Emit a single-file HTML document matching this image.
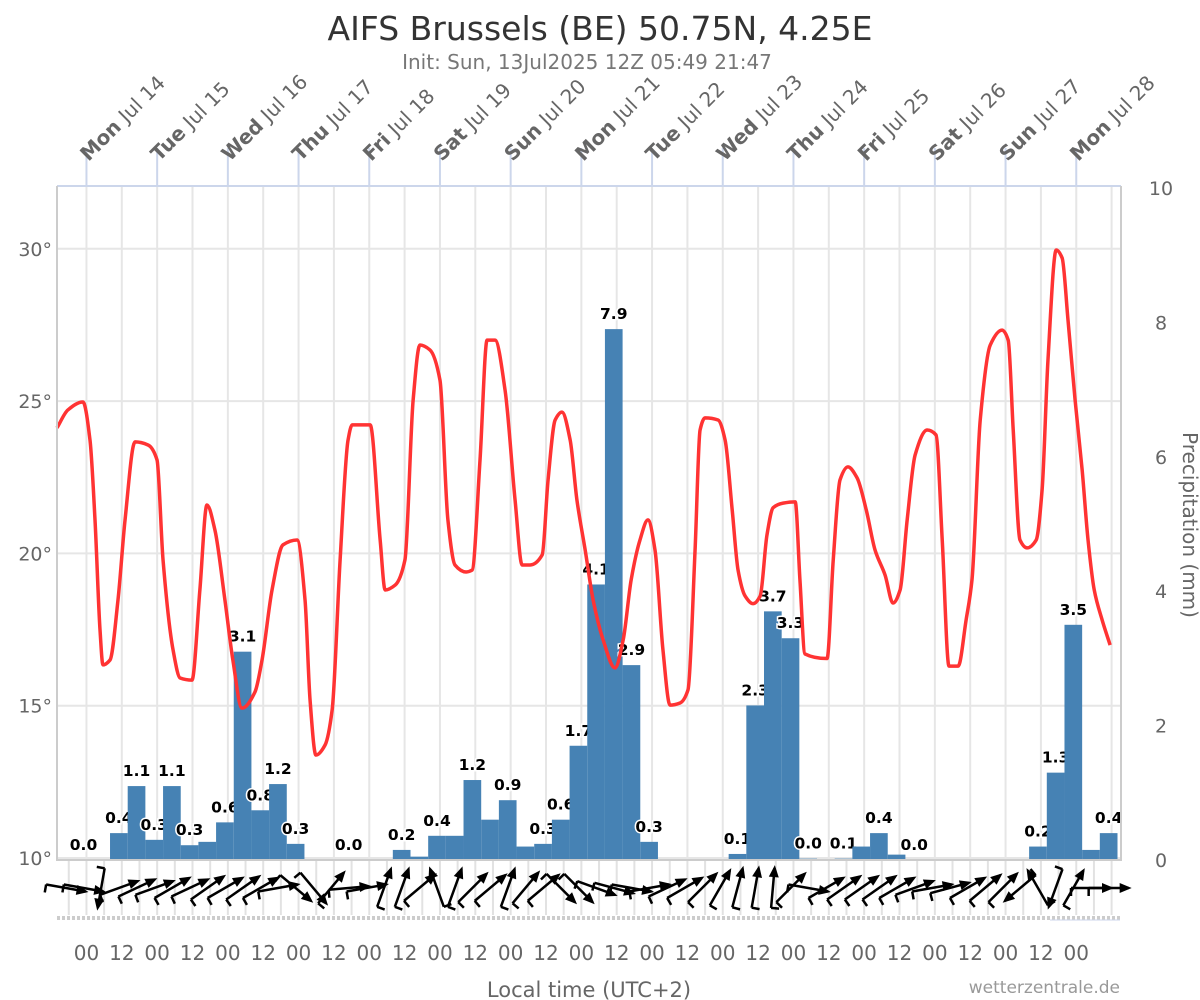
<!DOCTYPE html>
<html><head><meta charset="utf-8"><style>
body{margin:0;background:#fff;}
svg{display:block;font-family:"DejaVu Sans","Liberation Sans",sans-serif;}
</style></head><body>
<svg id="c" width="1200" height="1000" viewBox="0 0 1200 1000">
<text x="600" y="40" text-anchor="middle" font-size="33" fill="#333">AIFS Brussels (BE) 50.75N, 4.25E</text>
<text x="587" y="69" text-anchor="middle" font-size="20" fill="#777">Init: Sun, 13Jul2025 12Z 05:49 21:47</text>
<g id="grid"></g>
<g id="bars"></g>
<g id="temp"></g>
<g id="wind"></g>
<g id="axes"></g>
<text x="589" y="997" text-anchor="middle" font-size="21" fill="#666">Local time (UTC+2)</text>
<text x="1120" y="993" text-anchor="end" font-size="17" fill="#999">wetterzentrale.de</text>
<text transform="translate(1183,525) rotate(90)" text-anchor="middle" font-size="20" fill="#666">Precipitation (mm)</text>
</svg>
<script>
const precipValues=[null,0.0,0,0.4,1.1,0.3,1.1,0.22,0.27,0.56,3.1,0.74,1.13,0.24,
null,null,0.0,null,null,0.15,0.05,0.36,0.36,1.19,0.6,0.89,0.2,0.24,0.6,1.7,4.1,7.9,2.9,0.27,
null,null,null,null,0.09,2.3,3.7,3.3,0.02,null,0.02,0.2,0.4,0.08,0.0,
null,null,null,null,null,null,0.2,1.3,3.5,0.15,0.4];
const precipLabels=[null,"0.0",null,"0.4","1.1","0.3","1.1","0.3",null,"0.6","3.1","0.8","1.2","0.3",
null,null,"0.0",null,null,"0.2",null,"0.4",null,"1.2",null,"0.9",null,"0.3","0.6","1.7","4.1","7.9","2.9","0.3",
null,null,null,null,"0.1","2.3","3.7","3.3","0.0",null,"0.1",null,"0.4",null,"0.0",
null,null,null,null,null,null,"0.2","1.3","3.5",null,"0.4"];
const tempHours=[0,3.7,8.8,11.2,12.9,14.6,15.6,18,20.7,23.1,26.5,30.9,33.95,36,39.4,41.8,45.8,48.5,50.9,53.6,57,59.7,62.8,67.2,69.6,73,76.7,81.5,84.2,85.9,87.9,91,93.4,96.1,98.8,100.2,106.3,109.7,111.4,114.8,118.1,120.9,123.2,126.6,130,132.7,135.1,138.9,140.9,143.6,146,148.7,152.1,155.5,157.9,160.6,164.7,166.7,169.1,171.4,174.2,176.5,179.3,182,185.4,189.4,192.2,194.9,197.9,200.6,203,205.7,208.1,211.5,214.2,216.6,218.3,220,224.4,226.8,229.2,231.2,233.6,236.3,238.7,241,243.1,246.5,250.6,252.2,253.9,261.4,263.5,265.8,268.5,271.6,274.7,277.7,281.1,283.8,286.2,288.6,291.3,295.4,298.4,300.5,302.8,305.9,308.6,310.6,313.4,316.8,320.8,322.9,324.6,326.9,329.3,332.4,334.4,336.4,339.2,341.2,343.2,345.6,348,350,352.1,354.8,357.5];
const tempValues=[24.12,24.71,24.97,23.72,21.1,17.49,16.34,16.5,18.47,21.1,23.66,23.56,23.07,19.78,16.83,15.91,15.84,18.8,21.59,20.77,18.47,16.5,14.92,15.45,16.5,18.8,20.28,20.44,18.47,15.19,13.38,13.71,14.86,19.78,23.72,24.22,24.22,20.44,18.8,18.96,19.78,25.04,26.84,26.68,25.69,21.1,19.62,19.39,19.45,23.07,27,27,25.36,21.75,19.62,19.62,19.95,22.41,24.38,24.64,23.72,21.75,20.11,18.47,17.16,16.24,17.16,19.13,20.44,21.1,20.11,16.83,15.02,15.09,15.52,20.11,24.05,24.45,24.38,23.72,21.43,19.45,18.6,18.35,18.6,20.6,21.5,21.65,21.69,19.13,16.7,16.55,19.78,22.41,22.84,22.48,21.43,20.11,19.29,18.37,18.8,21.1,23.23,24.05,23.89,20.44,16.3,16.3,17.81,19.13,24.38,26.84,27.33,27,24.05,20.44,20.18,20.44,22.08,26.35,29.96,29.7,27.66,25.04,22.74,20.44,18.8,17.81,16.99];
const windDir=[-10,-10,-100,20,25,20,30,25,35,30,35,30,10,-40,-50,50,5,10,70,70,40,110,70,45,40,70,50,40,-45,-45,-20,-15,-10,10,25,30,45,60,75,80,85,45,-10,30,35,35,35,30,20,10,15,30,40,45,-140,120,-110,60,0,0];
const dayLabels=["Mon|Jul 14","Tue|Jul 15","Wed|Jul 16","Thu|Jul 17","Fri|Jul 18","Sat|Jul 19","Sun|Jul 20","Mon|Jul 21","Tue|Jul 22","Wed|Jul 23","Thu|Jul 24","Fri|Jul 25","Sat|Jul 26","Sun|Jul 27","Mon|Jul 28"];
const tempTicks=[10,15,20,25,30];
const precipTicks=[0,2,4,6,8,10];

const NS="http://www.w3.org/2000/svg";
const X0=57,X1=1121,Y0=186,Y1=860,PXH=70.7/24;
const xH=h=>X0+h*PXH;
const yT=t=>858-(t-10)*30.46;
const yP=p=>860-p*67.2;
function mk(tag,attrs,parent){const e=document.createElementNS(NS,tag);for(const k in attrs)e.setAttribute(k,attrs[k]);parent.appendChild(e);return e;}
const G=id=>document.getElementById(id);
const grid=G('grid'),axes=G('axes'),bars=G('bars'),tempG=G('temp'),wind=G('wind');

for(const t of tempTicks){const l=mk('line',{x1:X0,x2:X1,y1:yT(t),y2:yT(t),stroke:'#e6e6e6','stroke-width':2},grid);

}
for(let h=10;h<362;h+=12){const l=mk('line',{x1:xH(h),x2:xH(h),y1:Y0,y2:Y1,stroke:'#e6e6e6','stroke-width':2},grid);

}
for(let h=4;h<362;h+=6){const l=mk('line',{x1:xH(h),x2:xH(h),y1:Y1,y2:915,stroke:'#e2e2e2','stroke-width':2},grid);

}
let r=mk('line',{x1:X0,x2:X1,y1:Y0,y2:Y0,stroke:'#ccd6eb','stroke-width':2},axes);


r=mk('path',{d:`M${X0},${Y0}V${Y1}H${X1}V${Y0}`,fill:'none',stroke:'#ccc','stroke-width':2},axes);


r=mk('line',{x1:X0,x2:1120,y1:918,y2:918,stroke:'#ccc','stroke-width':4,'stroke-dasharray':'3,2'},axes);


r=mk('line',{x1:1050,x2:1120,y1:920,y2:920,stroke:'#ccd6eb','stroke-width':1},axes);



const BW=70.7/4;
precipValues.forEach((v,i)=>{
 if(v===null)return;
 const x=X0+i*BW, y=yP(v);
 const b=mk('rect',{x:x,y:y,width:BW,height:Y1-y,fill:'#4682b4'},bars);
 
 
 if(precipLabels[i]){const t=mk('text',{x:x+BW/2,y:y-10,'text-anchor':'middle','font-size':15.5,'font-weight':'bold',fill:'#000',stroke:'#fff','stroke-width':3,'paint-order':'stroke'},bars);t.textContent=precipLabels[i];
 
 }
});

// monotone cubic temperature curve
const P=tempHours.map((h,i)=>[xH(h),yT(tempValues[i])]);
const n=P.length,sl=[],m=[];
for(let i=0;i<n-1;i++)sl.push((P[i+1][1]-P[i][1])/(P[i+1][0]-P[i][0]));
m[0]=sl[0];m[n-1]=sl[n-2];
for(let i=1;i<n-1;i++){if(sl[i-1]*sl[i]<=0)m[i]=0;else{const h0=P[i][0]-P[i-1][0],h1=P[i+1][0]-P[i][0];m[i]=3*(h0+h1)/((2*h1+h0)/sl[i-1]+(h1+2*h0)/sl[i]);}}
let d=`M${P[0][0]},${P[0][1]}`;
for(let i=0;i<n-1;i++){const h=(P[i+1][0]-P[i][0])/3;
 d+=`C${P[i][0]+h},${P[i][1]+m[i]*h} ${P[i+1][0]-h},${P[i+1][1]-m[i+1]*h} ${P[i+1][0]},${P[i+1][1]}`;}
const tl=mk('path',{d:d,fill:'none',stroke:'#ff3333','stroke-width':3.5,'stroke-linejoin':'round'},tempG);



windDir.forEach((a,i)=>{
 const cx=X0+(i+0.5)*BW, cy=888, L=20, r=a*Math.PI/180;
 const dx=Math.cos(r)*L, dy=-Math.sin(r)*L;
 const hx=cx+dx,hy=cy+dy;
 const g=mk('g',{},wind);
 
 
 mk('line',{x1:cx-dx,y1:cy-dy,x2:hx,y2:hy,stroke:'#000','stroke-width':2.5},g);
 const ux=dx/L,uy=dy/L;
 mk('polygon',{points:`${hx+ux*3},${hy+uy*3} ${hx-ux*9-uy*5},${hy-uy*9+ux*5} ${hx-ux*9+uy*5},${hy-uy*9-ux*5}`,fill:'#000'},g);
 mk('line',{x1:cx-dx,y1:cy-dy,x2:cx-dx-uy*8,y2:cy-dy+ux*8,stroke:'#000','stroke-width':2.5},g);
});

for(const t of tempTicks){const e=mk('text',{x:52,y:yT(t)+7,'text-anchor':'end','font-size':19,fill:'#666'},axes);e.textContent=t+'°';

}
for(const p of precipTicks){const e=mk('text',{x:1161,y:yP(p)+7,'text-anchor':'middle','font-size':19,fill:'#666'},axes);e.textContent=p;

}

dayLabels.forEach((s,i)=>{
 const x=xH(10+24*i);
 const l=mk('line',{x1:x,x2:x,y1:148,y2:Y0,stroke:'#ccd6eb','stroke-width':2},axes);
 
 
 const [w,dd]=s.split('|');
 const t=mk('text',{transform:`translate(${x+2},162) rotate(-45)`,'font-size':20,fill:'#666'},axes);
 
 
 const t1=mk('tspan',{'font-weight':'bold'},t);t1.textContent=w;
 const t2=mk('tspan',{},t);t2.textContent=' '+dd;
});

for(let k=0;k<29;k++){const h=10+12*k;const e=mk('text',{x:xH(h),y:960,'text-anchor':'middle','font-size':20,fill:'#666'},axes);e.textContent=(k%2===0)?'00':'12';

}
</script>
</body></html>
